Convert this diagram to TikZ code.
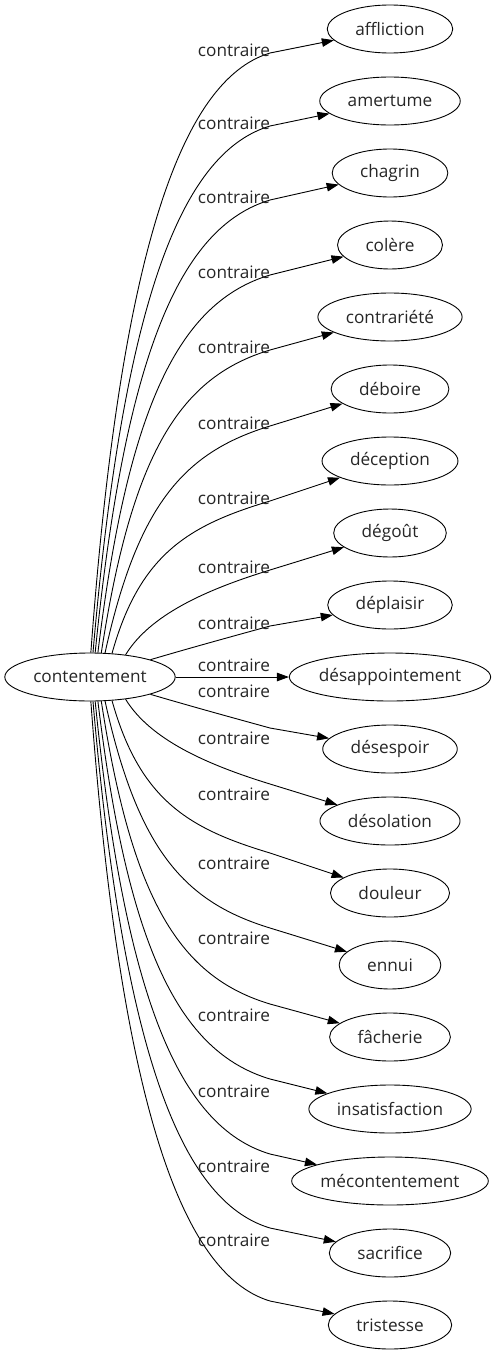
\documentclass[tikz,border=0pt]{standalone}
\usepackage{fontspec}
\setmainfont{Open Sans}
\usetikzlibrary{arrows.meta,shapes.geometric}
\newlength\tw
\newcommand\lfont{\fontsize{17.2}{20}\selectfont}
\newcommand\measure[2]{\settowidth\tw{\lfont #2}\expandafter\xdef\csname wd#1\endcsname{\the\tw}}
\AtBeginDocument{%
  \measure{s}{contentement}%
  \measure{t1}{affliction}\measure{t2}{amertume}\measure{t3}{chagrin}%
  \measure{t4}{colère}\measure{t5}{contrariété}\measure{t6}{déboire}%
  \measure{t7}{déception}\measure{t8}{dégoût}\measure{t9}{déplaisir}%
  \measure{t10}{désappointement}\measure{t11}{désespoir}\measure{t12}{désolation}%
  \measure{t13}{douleur}\measure{t14}{ennui}\measure{t15}{fâcherie}%
  \measure{t16}{insatisfaction}\measure{t17}{mécontentement}\measure{t18}{sacrifice}%
  \measure{t19}{tristesse}%
}
\tikzset{
  tnode/.style={draw, ellipse, line width=0.9pt, inner sep=0pt, minimum height=48pt, font=\lfont, text=black!85},
  lbl/.style={font=\lfont, inner sep=0pt, text=black!85},
  edge/.style={line width=0.9pt, -{Triangle[length=12pt,width=8.5pt]}},
}
\newcommand\tgt[3]{%
  \node[tnode, minimum width={\csname wd#1\endcsname+56pt}] (#1) at (390,#2) {#3};%
}
\begin{document}
\begin{tikzpicture}[x=1pt,y=-1pt]
\useasboundingbox (0,0) rectangle (499,1355);
\node[tnode, minimum width={\csname wds\endcsname+57pt}] (s) at (90,677) {contentement};
\tgt{t1}{29}{affliction}
\tgt{t2}{101}{amertume}
\tgt{t3}{173}{chagrin}
\tgt{t4}{245}{colère}
\tgt{t5}{317}{contrariété}
\tgt{t6}{389}{déboire}
\tgt{t7}{461}{déception}
\tgt{t8}{533}{dégoût}
\tgt{t9}{605}{déplaisir}
\tgt{t10}{677}{désappointement}
\tgt{t11}{749}{désespoir}
\tgt{t12}{821}{désolation}
\tgt{t13}{893}{douleur}
\tgt{t14}{965}{ennui}
\tgt{t15}{1037}{fâcherie}
\tgt{t16}{1109}{insatisfaction}
\tgt{t17}{1181}{mécontentement}
\tgt{t18}{1253}{sacrifice}
\tgt{t19}{1325}{tristesse}
% upper edges
\draw[edge] (s.88) .. controls (120,257) and (180,80) .. (270,53) -- (t1);
\draw[edge] (s.83) .. controls (123,305) and (180,153) .. (270,126) -- (t2);
\draw[edge] (s.78) .. controls (125,354) and (180,227) .. (270,200) -- (t3);
\draw[edge] (s.72) .. controls (128,404) and (180,302) .. (270,275) -- (t4);
\draw[edge] (s.65) .. controls (132,453) and (180,377) .. (270,350) -- (t5);
\draw[edge] (s.58) .. controls (138,503) and (185,452) .. (270,426) -- (t6);
\draw[edge] (s.47) .. controls (140,553) and (190,525) .. (270,501) -- (t7);
\draw[edge] (s.32) .. controls (150,615) and (205,590) .. (270,570) -- (t8);
\draw[edge] (s.16) .. controls (190,648) and (230,637) .. (270,626) -- (t9);
\draw[edge] (s) -- (t10);
% lower edges
\draw[edge] (s.-16) .. controls (190,706) and (230,717) .. (270,728) -- (t11);
\draw[edge] (s.-32) .. controls (150,739) and (205,764) .. (270,784) -- (t12);
\draw[edge] (s.-47) .. controls (140,801) and (190,829) .. (270,853) -- (t13);
\draw[edge] (s.-58) .. controls (138,851) and (185,902) .. (270,928) -- (t14);
\draw[edge] (s.-65) .. controls (132,901) and (180,977) .. (270,1004) -- (t15);
\draw[edge] (s.-72) .. controls (128,950) and (180,1052) .. (270,1079) -- (t16);
\draw[edge] (s.-78) .. controls (125,1000) and (180,1127) .. (270,1154) -- (t17);
\draw[edge] (s.-83) .. controls (123,1049) and (180,1201) .. (270,1228) -- (t18);
\draw[edge] (s.-88) .. controls (120,1097) and (180,1274) .. (270,1301) -- (t19);
% labels
\node[lbl] (l1) at (234,50) {contraire};
\node[lbl] (l2) at (234,123) {contraire};
\node[lbl] (l3) at (234,197) {contraire};
\node[lbl] (l4) at (234,272) {contraire};
\node[lbl] (l5) at (234,347) {contraire};
\node[lbl] (l6) at (234,423) {contraire};
\node[lbl] (l7) at (234,498) {contraire};
\node[lbl] (l8) at (234,567) {contraire};
\node[lbl] (l9) at (234,623) {contraire};
\node[lbl] (l10) at (234,665) {contraire};
\node[lbl] (l11) at (234,691) {contraire};
\node[lbl] (l12) at (234,738) {contraire};
\node[lbl] (l13) at (234,794) {contraire};
\node[lbl] (l14) at (234,863) {contraire};
\node[lbl] (l15) at (234,938) {contraire};
\node[lbl] (l16) at (234,1015) {contraire};
\node[lbl] (l17) at (234,1091) {contraire};
\node[lbl] (l18) at (234,1166) {contraire};
\node[lbl] (l19) at (234,1240) {contraire};
\end{tikzpicture}
\end{document}
